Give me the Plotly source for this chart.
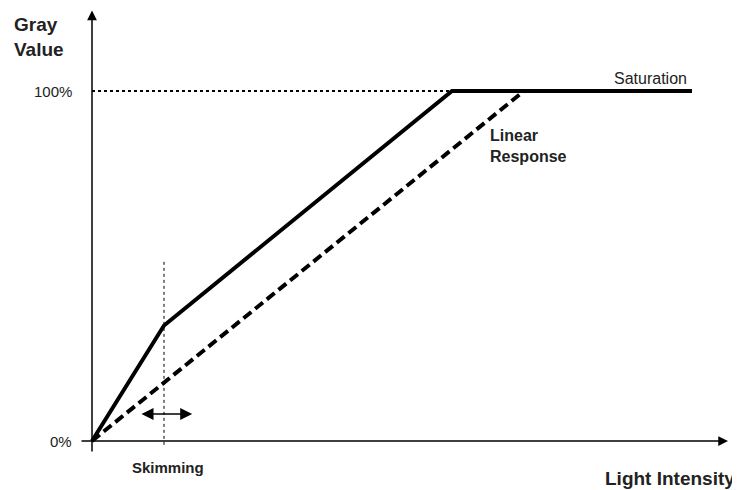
import plotly.graph_objects as go

# Data (light intensity in arbitrary units, gray value in %)
light_skim = [0, 1.2, 6.0, 10.0]
gray_skim = [0, 33, 100, 100]
light_linear = [0, 7.2, 10.0]
gray_linear = [0, 100, 100]
skim_x = 1.2
tick_vals = [0, 100]
tick_text = ["0%", "100%"]

FONT = "Liberation Sans, Arial, sans-serif"
fig = go.Figure()

fig.add_trace(go.Scatter(x=light_linear, y=gray_linear, mode="lines",
                         line=dict(color="black", width=4, dash="10px,5px"),
                         hoverinfo="skip"))
fig.add_trace(go.Scatter(x=light_skim, y=gray_skim, mode="lines",
                         line=dict(color="black", width=4),
                         hoverinfo="skip"))

# dotted guide lines
fig.add_shape(type="line", x0=0, x1=light_skim[2], y0=100, y1=100,
              line=dict(color="black", width=1.8, dash="dot"))
fig.add_shape(type="line", x0=skim_x, x1=skim_x, y0=-1.1, y1=52,
              line=dict(color="black", width=1, dash="dot"))

# axes with arrows
fig.add_annotation(x=10.6, y=0, ax=-0.2, ay=0, xref="x", yref="y", axref="x", ayref="y",
                   showarrow=True, arrowhead=2, arrowsize=1.3, arrowwidth=1.5,
                   arrowcolor="black", text="")
fig.add_annotation(x=0, y=123, ax=0, ay=-3.4, xref="x", yref="y", axref="x", ayref="y",
                   showarrow=True, arrowhead=2, arrowsize=1.3, arrowwidth=1.5,
                   arrowcolor="black", text="")
# skimming double arrow
fig.add_annotation(x=1.67, y=7.7, ax=0.8, ay=7.7, xref="x", yref="y", axref="x", ayref="y",
                   showarrow=True, arrowhead=2, startarrowhead=2, arrowside="end+start",
                   arrowsize=1.6, startarrowsize=1.6, arrowwidth=1.5, arrowcolor="black", text="")

# tick labels
for v, t in zip(tick_vals, tick_text):
    fig.add_annotation(x=-0.3, y=v, xref="x", yref="y", text=t, showarrow=False,
                       xanchor="right", yanchor="middle",
                       font=dict(family=FONT, size=15, color="#222"))

fig.add_annotation(x=-1.33, y=115.5, xref="x", yref="y", text="<b>Gray<br>Value</b>",
                   showarrow=False, xanchor="left", yanchor="middle", align="left",
                   font=dict(family=FONT, size=19, color="#222"))
fig.add_annotation(x=10.75, y=-10.6, xref="x", yref="y", text="<b>Light Intensity</b>",
                   showarrow=False, xanchor="right", yanchor="middle",
                   font=dict(family=FONT, size=19, color="#222"))
fig.add_annotation(x=1.27, y=-7.7, xref="x", yref="y", text="<b>Skimming</b>",
                   showarrow=False, xanchor="center", yanchor="middle",
                   font=dict(family=FONT, size=15, color="#222"))
fig.add_annotation(x=6.6, y=84.4, xref="x", yref="y", text="<b>Linear<br>Response</b>",
                   showarrow=False, xanchor="left", yanchor="middle", align="left",
                   font=dict(family=FONT, size=16, color="#222"))
fig.add_annotation(x=9.3, y=103.7, xref="x", yref="y", text="Saturation",
                   showarrow=False, xanchor="center", yanchor="middle",
                   font=dict(family=FONT, size=16, color="#222"))

# page body adds an 8px offset, so the figure is 732x482 and ranges compensate
fig.update_layout(
    width=732, height=482,
    margin=dict(l=0, r=0, t=0, b=0),
    paper_bgcolor="white", plot_bgcolor="white",
    showlegend=False,
    xaxis=dict(range=[(8 - 92) / 60, (740 - 92) / 60], visible=False, fixedrange=True),
    yaxis=dict(range=[(441 - 490) / 3.5, (441 - 8) / 3.5], visible=False, fixedrange=True),
)

fig.write_html("out.html")
